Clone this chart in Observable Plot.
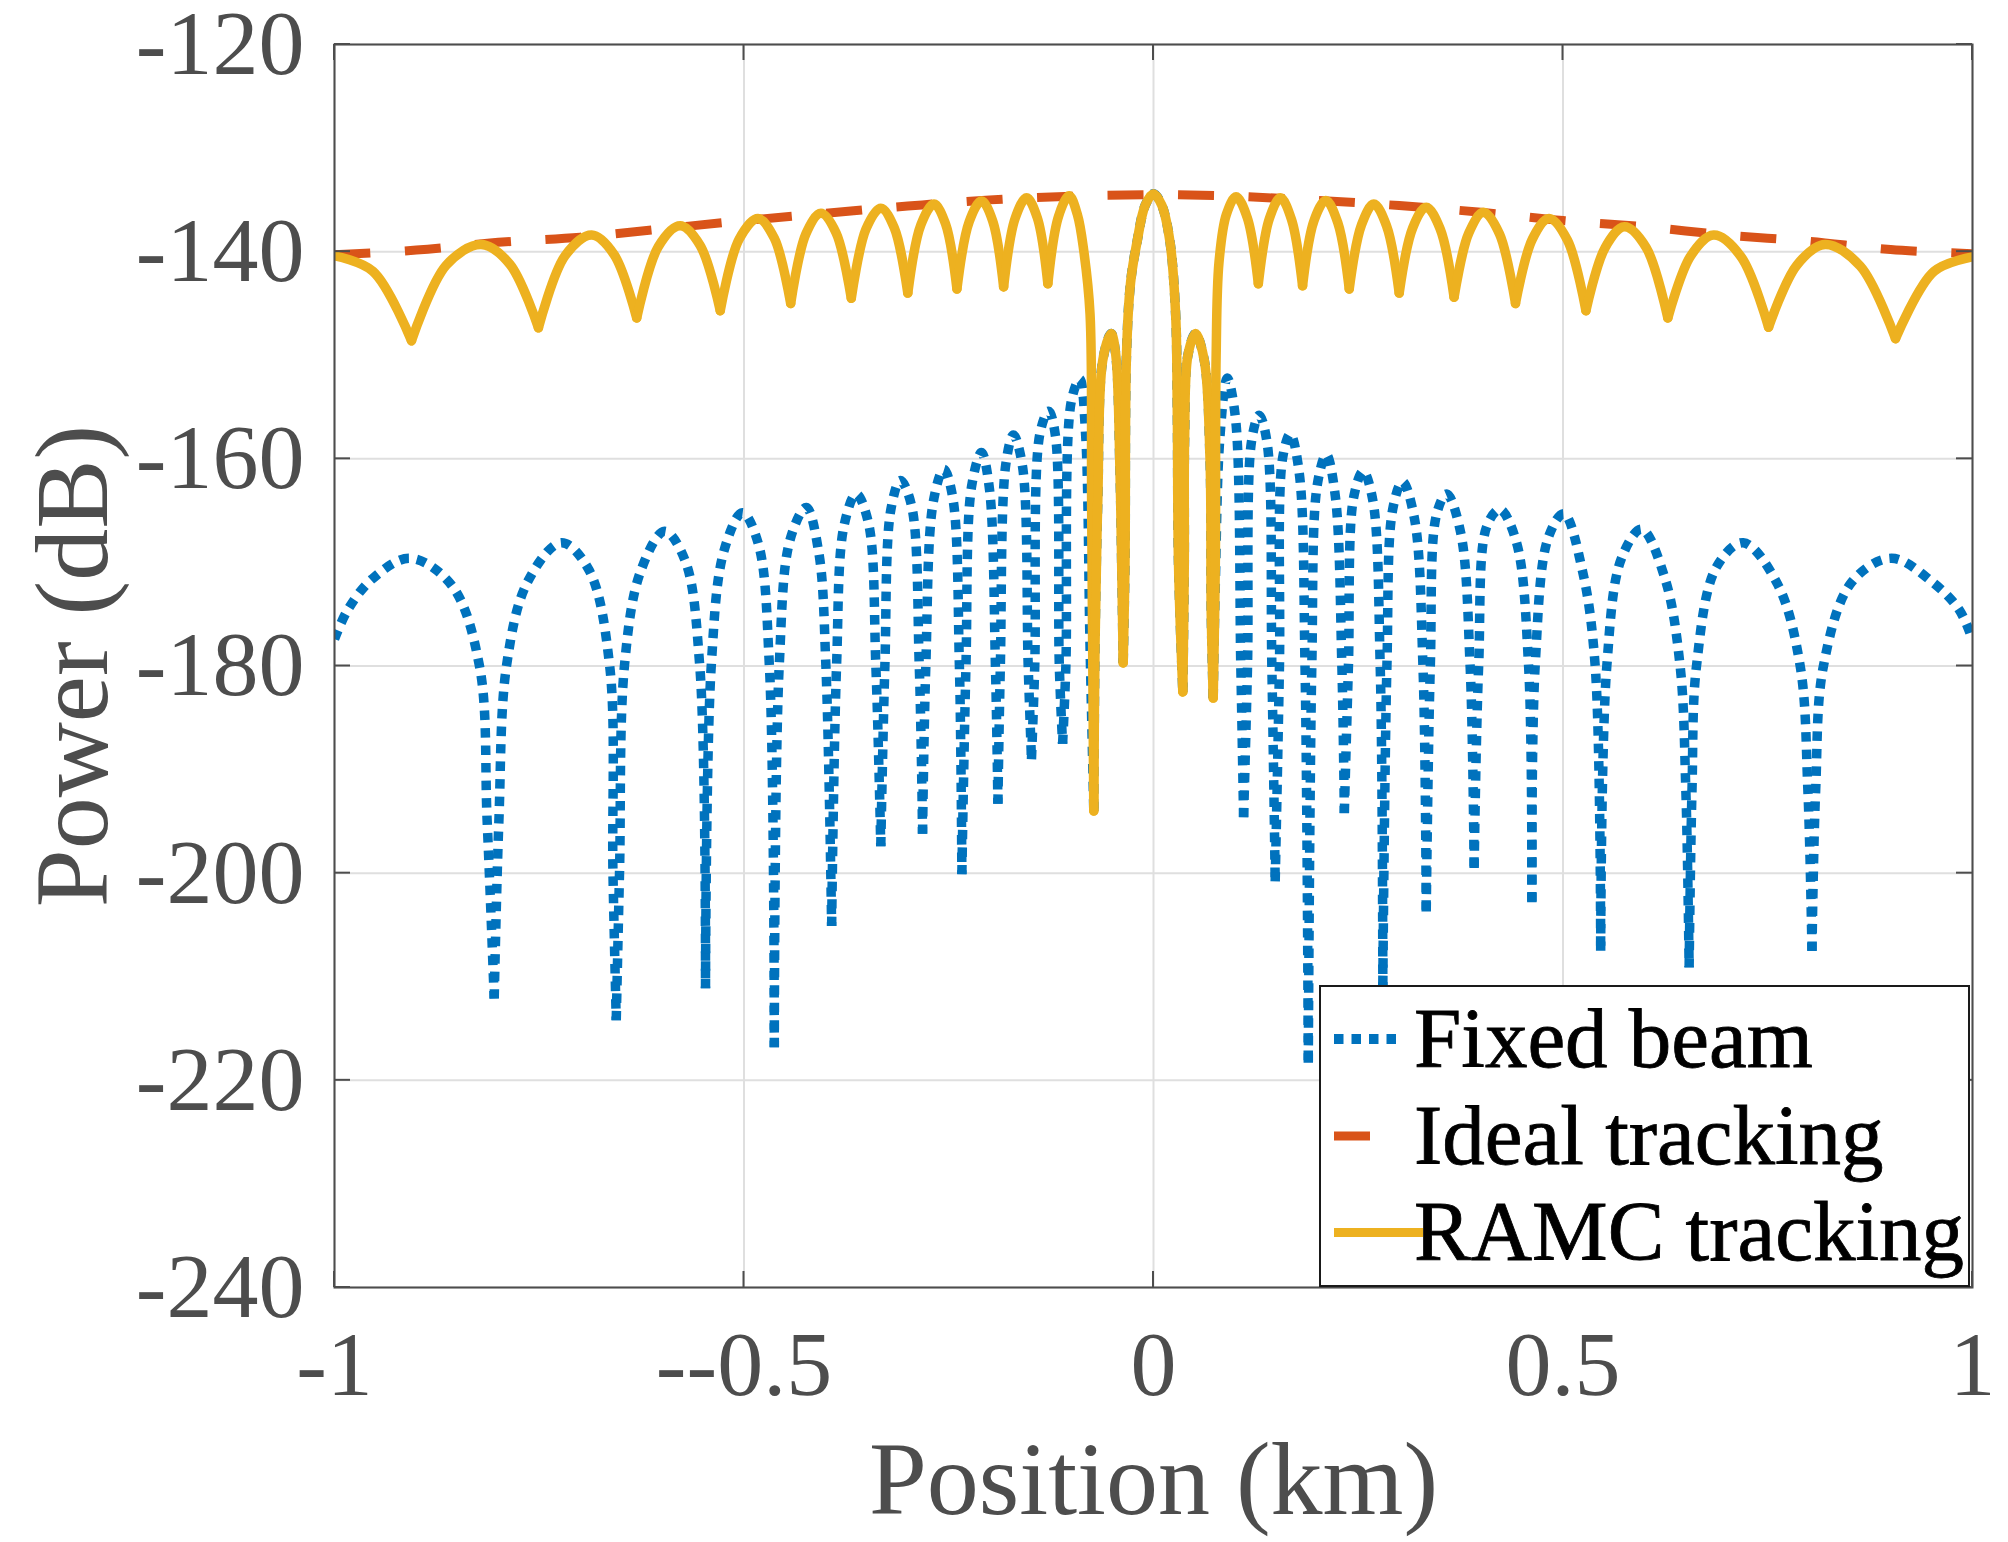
<!DOCTYPE html>
<html>
<head>
<meta charset="utf-8">
<script src="https://cdn.jsdelivr.net/npm/d3@7"></script>
<script src="https://cdn.jsdelivr.net/npm/@observablehq/plot@0.6"></script>
<style>
  html, body { margin: 0; padding: 0; background: #ffffff; }
  svg { display: block; }
</style>
</head>
<body>
<div id="chart"></div>
<script>
// ---------- data ----------
const xTicks = [-1, -0.5, 0, 0.5, 1];
const xTickLabels = ["-1", "--0.5", "0", "0.5", "1"];
const yTicks = [-120, -140, -160, -180, -200, -220, -240];
const yTickLabels = ["-120", "-140", "-160", "-180", "-200", "-220", "-240"];
const seriesNames = ["Fixed beam", "Ideal tracking", "RAMC tracking"];
const xLabel = "Position (km)";
const yLabel = "Power (dB)";

// RAMC tracking (nulls, shoulders, peaks)
const ramcX = [
  -1.000, -0.953, -0.906, -0.8635, -0.821, -0.786, -0.751, -0.7185, -0.686, -0.6585,
  -0.631, -0.6045, -0.578, -0.5535, -0.529, -0.506, -0.483, -0.463, -0.443, -0.4245,
  -0.406, -0.3875, -0.369, -0.351, -0.333, -0.3165, -0.300, -0.284, -0.268, -0.254,
  -0.240, -0.225, -0.210, -0.1965, -0.183, -0.169, -0.155, -0.142, -0.129, -0.116,
  -0.103, -0.093, -0.085, -0.0775, -0.0755, -0.0729,
  -0.0714, -0.068, -0.062, -0.0517, -0.046, -0.041, -0.0385, -0.037,
  -0.0348, -0.033, -0.028, -0.020, -0.010, 0, 0.010, 0.020, 0.027, 0.029, 0.0305, 0.0358,
  0.0376, 0.038, 0.042, 0.0513, 0.062, 0.069, 0.0705, 0.0729,
  0.0755, 0.0765, 0.080, 0.089, 0.1008, 0.1144, 0.128,
  0.1415, 0.155, 0.1685, 0.182, 0.196, 0.2105, 0.225, 0.239, 0.254, 0.269,
  0.2845, 0.300, 0.3165, 0.333, 0.350, 0.367, 0.385, 0.403, 0.4225, 0.442,
  0.4625, 0.483, 0.5055, 0.528, 0.5515, 0.575, 0.6015, 0.628, 0.656, 0.684,
  0.7175, 0.751, 0.7855, 0.820, 0.863, 0.906, 0.953, 1.000
];
const ramcY = [
  -140.4, -141.9, -148.6, -141.3, -139.3, -141.2, -147.35, -140.4, -138.4, -140.3,
  -146.4, -139.5, -137.5, -139.4, -145.7, -138.8, -136.8, -138.7, -145.0, -138.3,
  -136.3, -138.2, -144.5, -137.8, -135.8, -137.7, -144.0, -137.4, -135.4, -137.3,
  -143.6, -137.1, -135.1, -137.0, -143.4, -136.8, -134.8, -136.7, -143.1, -136.6,
  -134.6, -136.4, -140.0, -146.0, -165.0, -194.0,
  -178.0, -164.0, -150.5, -147.9, -150.0, -161.0, -172.0, -179.7,
  -170.0, -150.0, -143.0, -139.0, -135.5, -134.4, -135.5, -139.0, -146.0, -155.0, -170.0, -182.5,
  -170.0, -158.0, -150.0, -147.9, -150.5, -160.0, -175.0, -183.1,
  -170.0, -150.0, -141.0, -136.4, -134.7, -136.7, -143.1,
  -136.8, -134.8, -136.9, -143.3, -137.0, -135.05, -137.2, -143.6, -137.4, -135.4,
  -137.5, -144.0, -137.7, -135.7, -137.8, -144.4, -138.2, -136.2, -138.3, -145.0,
  -138.8, -136.8, -138.9, -145.7, -139.6, -137.6, -139.6, -146.4, -140.4, -138.4,
  -140.5, -147.3, -141.3, -139.3, -141.4, -148.4, -141.9, -140.5
];

// Fixed beam, outer side lobes (left of centre, then right of centre)
const fixedLeftX = [
  -1.000, -0.984, -0.954, -0.908, -0.857, -0.823, -0.8136, -0.805, -0.7993, -0.790,
  -0.7644, -0.723, -0.6895, -0.664, -0.660, -0.656, -0.652, -0.646, -0.6264, -0.597,
  -0.572, -0.554, -0.547, -0.540, -0.5245, -0.502, -0.4825, -0.469, -0.463, -0.457,
  -0.4437, -0.424, -0.4086, -0.400, -0.393, -0.387, -0.378, -0.363, -0.348, -0.339,
  -0.333, -0.328, -0.3207, -0.309, -0.2955, -0.286, -0.282, -0.278, -0.269, -0.256,
  -0.245, -0.237, -0.234, -0.229, -0.2222, -0.210, -0.2003, -0.193, -0.190, -0.187,
  -0.1803, -0.171, -0.160, -0.153, -0.149, -0.145, -0.1388, -0.128, -0.1197, -0.115,
  -0.111, -0.107, -0.1005, -0.090, -0.083, -0.0775
];
const fixedLeftY = [
  -177.4, -174.6, -171.6, -169.6, -172.2, -180.0, -195.0, -212.1, -195.0, -180.0,
  -171.9, -168.1, -170.7, -180.0, -200.0, -214.2, -200.0, -180.0, -170.9, -167.0,
  -169.8, -180.0, -211.1, -180.0, -168.9, -165.2, -168.2, -180.0, -216.8, -180.0,
  -167.8, -164.7, -169.1, -180.0, -205.1, -180.0, -166.5, -163.4, -166.2, -180.0,
  -197.4, -180.0, -164.9, -162.1, -164.5, -180.0, -196.2, -180.0, -164.2, -161.0,
  -163.8, -180.0, -200.1, -180.0, -162.7, -159.4, -162.9, -180.0, -193.3, -180.0,
  -160.5, -157.7, -160.7, -180.0, -189.0, -180.0, -157.6, -155.4, -157.8, -180.0,
  -187.5, -180.0, -154.5, -152.3, -157.5, -178.0
];
const fixedRightX = [
  0.0755, 0.081, 0.090, 0.100, 0.1066, 0.110, 0.1148, 0.1197, 0.129, 0.1388,
  0.1445, 0.1486, 0.1538, 0.1575, 0.167, 0.178, 0.185, 0.189, 0.1933, 0.200,
  0.211, 0.222, 0.230, 0.233, 0.238, 0.2442, 0.256, 0.2678, 0.2768, 0.280,
  0.285, 0.292, 0.304, 0.3187, 0.329, 0.333, 0.338, 0.3455, 0.358, 0.375,
  0.3866, 0.3915, 0.397, 0.407, 0.423, 0.443, 0.458, 0.462, 0.466, 0.482,
  0.501, 0.524, 0.5393, 0.546, 0.5535, 0.5714, 0.596, 0.6247, 0.643, 0.650,
  0.654, 0.6575, 0.663, 0.687, 0.720, 0.762, 0.7896, 0.799, 0.804, 0.8085,
  0.818, 0.8526, 0.901, 0.951, 0.984, 1.000
];
const fixedRightY = [
  -172.0, -158.0, -152.2, -156.0, -180.0, -194.6, -180.0, -158.3, -155.8, -158.5,
  -180.0, -200.8, -180.0, -160.0, -157.6, -161.4, -180.0, -218.3, -180.0, -162.5,
  -159.6, -163.6, -180.0, -194.2, -180.0, -163.8, -161.2, -164.0, -180.0, -210.8,
  -180.0, -164.9, -162.2, -165.8, -180.0, -203.7, -180.0, -165.4, -163.4, -167.1,
  -180.0, -199.5, -180.0, -166.5, -164.9, -168.0, -180.0, -202.8, -180.0, -167.6,
  -165.3, -170.9, -180.0, -207.5, -180.0, -169.6, -166.8, -171.6, -180.0, -192.0,
  -209.1, -192.0, -180.0, -170.5, -168.1, -172.1, -180.0, -192.0, -207.5, -192.0,
  -180.0, -171.9, -169.6, -171.9, -174.6, -177.5
];

// Ideal tracking envelope
const idealX = [-1, -0.9, -0.8, -0.7, -0.6, -0.5, -0.4, -0.3, -0.2, -0.1, 0,
                0.1, 0.2, 0.3, 0.4, 0.5, 0.6, 0.7, 0.8, 0.9, 1];
const idealY = [-140.3, -139.85, -139.1, -138.6, -137.8, -137.0, -136.3, -135.6, -135.0, -134.65, -134.5,
                -134.65, -135.05, -135.55, -136.2, -137.0, -137.6, -138.4, -139.0, -139.8, -140.2];

// ---------- styles ----------
const colors = ["#0072BD", "#D95319", "#EDB120"];
const axisColor = "#4d4d4d";
const gridColor = "#dfdfdf";
const font = "'Liberation Serif', 'Times New Roman', Times, serif";

// Fixed beam in the central region follows the RAMC curve (hidden under it)
const centreIdx = ramcX.map((x, i) => i).filter(i => ramcX[i] >= -0.0729 && ramcX[i] <= 0.0729);
const fixedX = [...fixedLeftX, ...centreIdx.map(i => ramcX[i]), ...fixedRightX];
const fixedY = [...fixedLeftY, ...centreIdx.map(i => ramcY[i]), ...fixedRightY];

// split a curve into lobes at its nulls (local minima) so each lobe is a smooth arch
function lobes(xs, ys) {
  const rows = [];
  let seg = 0;
  for (let i = 0; i < xs.length; i++) {
    rows.push({x: xs[i], y: ys[i], seg});
    const isMin = i > 0 && i < xs.length - 1 && ys[i] < ys[i - 1] && ys[i] < ys[i + 1];
    if (isMin) { seg++; rows.push({x: xs[i], y: ys[i], seg}); }
  }
  return rows;
}
const fixedRows = lobes(fixedX, fixedY);
const ramcRows = lobes(ramcX, ramcY);
const idealRows = idealX.map((x, i) => ({x, y: idealY[i]}));

// inward ticks on all four sides
function ticksMark(index, scales, values, dims) {
  const {width, height, marginLeft, marginRight, marginTop, marginBottom} = dims;
  const sx = scales.x, sy = scales.y;
  const L = 16;
  const top = marginTop, bottom = height - marginBottom;
  const left = marginLeft, right = width - marginRight;
  const g = d3.create("svg:g").attr("stroke", axisColor).attr("stroke-width", 2).attr("fill", "none");
  for (const t of xTicks) {
    const px = sx(t);
    g.append("line").attr("x1", px).attr("x2", px).attr("y1", bottom).attr("y2", bottom - L);
    g.append("line").attr("x1", px).attr("x2", px).attr("y1", top).attr("y2", top + L);
  }
  for (const t of yTicks) {
    const py = sy(t);
    g.append("line").attr("x1", left).attr("x2", left + L).attr("y1", py).attr("y2", py);
    g.append("line").attr("x1", right).attr("x2", right - L).attr("y1", py).attr("y2", py);
  }
  return g.node();
}

// legend box in the lower-right corner of the axes
function legendMark(index, scales, values, dims) {
  const {width, height, marginRight, marginBottom} = dims;
  const w = 649, h = 300;
  const x0 = width - marginRight - 3 - w;
  const y0 = height - marginBottom - 1 - h;
  const g = d3.create("svg:g");
  g.append("rect").attr("x", x0).attr("y", y0).attr("width", w).attr("height", h)
    .attr("fill", "#ffffff").attr("stroke", "#1a1a1a").attr("stroke-width", 2);
  const rows = [
    {name: seriesNames[0], color: colors[0], len: 62, dash: "9.5,8", sw: 10, ly: 53, ty: 80.6},
    {name: seriesNames[1], color: colors[1], len: 36, dash: "36,34.5", sw: 9, ly: 150, ty: 177.6},
    {name: seriesNames[2], color: colors[2], len: 89, dash: null, sw: 9, ly: 246.6, ty: 274}
  ];
  for (const r of rows) {
    const ln = g.append("line")
      .attr("x1", x0 + 14).attr("x2", x0 + 14 + r.len)
      .attr("y1", y0 + r.ly).attr("y2", y0 + r.ly)
      .attr("stroke", r.color).attr("stroke-width", r.sw).attr("stroke-linecap", "butt");
    if (r.dash) ln.attr("stroke-dasharray", r.dash);
    g.append("text")
      .attr("x", x0 + 94).attr("y", y0 + r.ty)
      .attr("text-anchor", "start")
      .style("text-anchor", "start")
      .attr("font-family", font).attr("font-size", 85).attr("fill", "#000000")
      .attr("stroke", "#000000").attr("stroke-width", 0.8)
      .text(r.name);
  }
  return g.node();
}

const chart = Plot.plot({
  width: 2008,
  height: 1542,
  marginLeft: 334,
  marginRight: 36,
  marginTop: 44,
  marginBottom: 255,
  style: {fontFamily: font, background: "#ffffff", color: axisColor},
  x: {domain: [-1, 1]},
  y: {domain: [-240, -120]},
  marks: [
    Plot.gridX(xTicks, {stroke: gridColor, strokeOpacity: 1, strokeWidth: 2}),
    Plot.gridY(yTicks, {stroke: gridColor, strokeOpacity: 1, strokeWidth: 2}),
    Plot.line(fixedRows, {x: "x", y: "y", z: "seg", stroke: colors[0], strokeWidth: 9.5,
      strokeDasharray: "9.5,8", strokeLinecap: "butt", curve: "catmull-rom", clip: true}),
    Plot.line(idealRows, {x: "x", y: "y", stroke: colors[1], strokeWidth: 9,
      strokeDasharray: "36,34.5", strokeLinecap: "butt", curve: "catmull-rom", clip: true}),
    Plot.line(ramcRows, {x: "x", y: "y", z: "seg", stroke: colors[2], strokeWidth: 9.5,
      strokeLinecap: "round", strokeLinejoin: "round", curve: "catmull-rom", clip: true}),
    Plot.frame({stroke: axisColor, strokeWidth: 2}),
    ticksMark,
    Plot.axisX(xTicks, {anchor: "bottom", tickSize: 0, tickPadding: 42, fontSize: 92,
      tickFormat: d => xTickLabels[xTicks.indexOf(d)], label: null, fill: axisColor}),
    Plot.axisY(yTicks, {anchor: "left", tickSize: 0, tickPadding: 30, fontSize: 92,
      tickFormat: d => yTickLabels[yTicks.indexOf(d)], label: null, fill: axisColor}),
    Plot.text([xLabel], {frameAnchor: "bottom", dy: 226, lineAnchor: "bottom",
      fontSize: 104, fill: axisColor}),
    Plot.text([yLabel], {frameAnchor: "left", dx: -228, rotate: -90, lineAnchor: "bottom",
      textAnchor: "middle", fontSize: 104, fill: axisColor}),
    legendMark
  ]
});
document.getElementById("chart").appendChild(chart);
</script>
</body>
</html>
